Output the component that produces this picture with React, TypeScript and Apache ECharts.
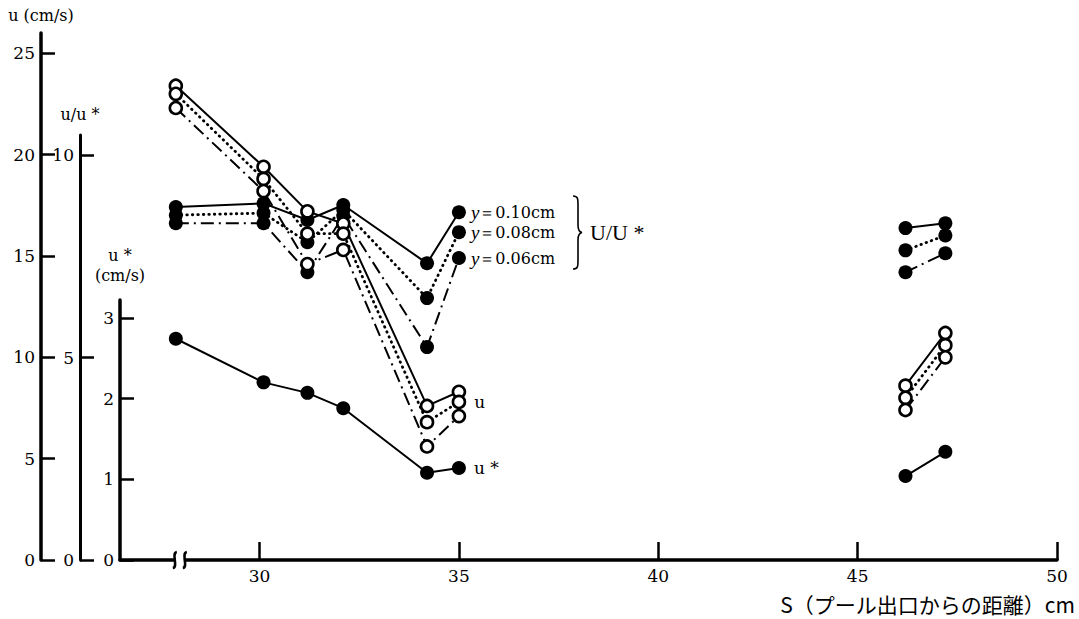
import React, { useEffect, useRef } from "react";
import * as echarts from "echarts";

// Distance S (cm) of the measuring sections
const S_CM = [27.9, 30.1, 31.2, 32.1, 34.2, 35.0, 46.2, 47.2];
const GAP_AT = 40; // lines are not drawn across this gap
// u (cm/s) — open circles
const U_010 = [23.4, 19.4, 17.2, 16.6, 7.6, 8.3, 8.6, 11.2];
const U_008 = [23.0, 18.8, 16.1, 16.1, 6.8, 7.8, 8.0, 10.6];
const U_006 = [22.3, 18.2, 14.6, 15.3, 5.6, 7.1, 7.4, 10.0];
// u/u* — filled circles
const R_010 = [8.72, 8.81, 8.4, 8.77, 7.33, 8.59, 8.2, 8.32];
const R_008 = [8.52, 8.57, 7.85, 8.65, 6.47, 8.1, 7.65, 8.02];
const R_006 = [8.32, 8.32, 7.11, 8.5, 5.26, 7.46, 7.11, 7.58];
// u* (cm/s)
const U_STAR = [2.74, 2.2, 2.07, 1.88, 1.08, 1.14, 1.04, 1.34];

const X_TICKS = [30, 35, 40, 45, 50];
const X_LABEL_STEP = 5;
const U_TICKS = [0, 5, 10, 15, 20, 25];
const R_TICKS = [0, 5, 10];
const US_TICKS = [0, 1, 2, 3];
const Y_LABELS = ["0.10cm", "0.08cm", "0.06cm"];

const SERIF = "Liberation Serif";
const SERIF2 = "DejaVu Serif";
const CJK = "Noto Sans CJK JP";

let braceRegistered = false;
function registerBrace() {
  if (braceRegistered) return;
  braceRegistered = true;
  echarts.graphic.registerShape(
    "brace",
    echarts.graphic.extendPath(
      "M0 0 C5 0 5 3 5 8 L5 29 C5 34 6 36 9 36.5 C6 37 5 39 5 44 L5 65 C5 70 5 73 0 73",
      {}
    )
  );
}

function build(values: number[], label?: any) {
  const out: any[] = [];
  S_CM.forEach((s, i) => {
    if (i > 0 && S_CM[i - 1] < GAP_AT && s > GAP_AT) out.push({ value: [GAP_AT, "-"] });
    const item: any = { value: [s, values[i]] };
    if (i === 5 && label) item.label = label;
    out.push(item);
  });
  return out;
}

const DOT = [0.5, 5];
const DASHDOT = [13, 5, 2, 5];

function series(data: any[], xi: number, dash: any, hollow: boolean, z: number) {
  return {
    type: "line",
    xAxisIndex: xi,
    yAxisIndex: xi,
    data,
    symbol: "circle",
    symbolSize: hollow ? 12 : 14,
    showAllSymbol: true,
    connectNulls: false,
    clip: false,
    silent: true,
    z,
    lineStyle: { color: "#000", width: dash === DOT ? 2.8 : 2, type: dash, cap: dash === DOT ? "round" : "butt" },
    itemStyle: hollow
      ? { color: "#fff", borderColor: "#000", borderWidth: 2.6 }
      : { color: "#000", borderWidth: 0 },
  };
}

function yLabel(text: string) {
  return {
    show: true,
    position: "right",
    distance: 5,
    formatter: "{i|y}{t|＝" + text + "}",
    rich: {
      i: { fontStyle: "italic", fontFamily: SERIF, fontSize: 19, color: "#000" },
      t: { fontFamily: SERIF2, fontSize: 16, color: "#000" },
    },
  };
}

function plainLabel(text: string) {
  return {
    show: true,
    position: "right",
    distance: 8,
    formatter: text,
    fontFamily: SERIF2,
    fontSize: 17,
    color: "#000",
  };
}

const GRID_COMMON = { left: 120, right: 22, bottom: 59 };

function yAxis(grid: number, max: number, step: number, ticks: number[], offset: number, name: string, nameGap: number, lineW: number) {
  return {
    type: "value",
    gridIndex: grid,
    min: 0,
    max,
    interval: step,
    offset,
    position: "left",
    name,
    nameLocation: "end",
    nameGap,
    nameTextStyle: { fontFamily: SERIF2, fontSize: 16, color: "#000", lineHeight: 20 },
    axisLine: { show: true, onZero: false, lineStyle: { color: "#000", width: lineW } },
    axisTick: { show: true, inside: true, length: 14, customValues: ticks, lineStyle: { color: "#000", width: 2.5 } },
    axisLabel: {
      show: true,
      showMaxLabel: false,
      margin: 6,
      fontFamily: SERIF2,
      fontSize: 17,
      color: "#000",
      formatter: (v: number) => (ticks.indexOf(v) >= 0 ? String(v) : ""),
    },
    splitLine: { show: false },
  };
}

function xAxis(grid: number, show: boolean) {
  return {
    type: "value",
    gridIndex: grid,
    min: 26.5,
    max: 50,
    interval: 0.5,
    show,
    axisLine: { show: true, onZero: false, lineStyle: { color: "#000", width: 3.5 } },
    axisTick: { show: true, inside: true, length: 18, customValues: X_TICKS, lineStyle: { color: "#000", width: 2.5 } },
    axisLabel: {
      show: true,
      margin: 7,
      fontFamily: SERIF2,
      fontSize: 17,
      color: "#000",
      hideOverlap: false,
      interval: 0,
      formatter: (v: number) => (Math.abs(v % X_LABEL_STEP) < 1e-6 ? String(v) : ""),
    },
    splitLine: { show: false },
  };
}

export default function App() {
  const ref = useRef<HTMLDivElement>(null);
  useEffect(() => {
    if (!ref.current) return;
    registerBrace();
    const chart = echarts.init(ref.current, null, { renderer: "svg" });
    chart.setOption({
      animation: false,
      backgroundColor: "#fff",
      grid: [
        { ...GRID_COMMON, top: 33 },
        { ...GRID_COMMON, top: 135 },
        { ...GRID_COMMON, top: 300 },
      ],
      xAxis: [xAxis(0, false), xAxis(1, false), xAxis(2, true)],
      yAxis: [
        yAxis(0, 26, 5, U_TICKS, 79, "u (cm/s)", 8, 3.5),
        yAxis(1, 10.5, 5, R_TICKS, 40, "u/u *", 11, 3),
        yAxis(2, 3.22, 1, US_TICKS, 0, "u *\n(cm/s)", 15, 3.5),
      ],
      series: [
        series(build(R_010, yLabel(Y_LABELS[0])), 1, "solid", false, 3),
        series(build(R_008, yLabel(Y_LABELS[1])), 1, DOT, false, 3),
        series(build(R_006, yLabel(Y_LABELS[2])), 1, DASHDOT, false, 3),
        series(build(U_STAR, plainLabel("u *")), 2, "solid", false, 3),
        series(build(U_010), 0, "solid", true, 4),
        series(build(U_008, plainLabel("u")), 0, DOT, true, 4),
        series(build(U_006), 0, DASHDOT, true, 4),
      ],
    });

    const bx = chart.convertToPixel({ xAxisIndex: 2 }, 28.0) as number;
    const by = chart.convertToPixel({ yAxisIndex: 2 }, 0) as number;
    const mark = (cx: number) => ({
      type: "bezierCurve",
      shape: { x1: cx + 2, y1: by - 8, cpx1: cx - 4, cpy1: by - 7, cpx2: cx + 4, cpy2: by + 7, x2: cx - 2, y2: by + 8 },
      style: { stroke: "#000", lineWidth: 2.5, fill: "none" },
      z: 10,
    });
    chart.setOption({
      graphic: [
        { type: "rect", shape: { x: bx - 4, y: by - 4, width: 8, height: 8 }, style: { fill: "#fff" }, z: 9 },
        mark(bx - 5),
        mark(bx + 5),
        {
          type: "brace",
          x: 573,
          y: 196,
          style: { fill: "none", stroke: "#000", lineWidth: 1.6 },
          z: 10,
        },
        {
          type: "text",
          x: 590,
          y: 232,
          style: { text: "U/U *", font: "22px " + SERIF, fill: "#000", verticalAlign: "middle" },
          z: 10,
        },
        {
          type: "text",
          right: 4,
          top: 593,
          style: { text: "S（プール出口からの距離）cm", font: "21px '" + CJK + "'", fill: "#000" },
          z: 10,
        },
      ],
    });
    return () => chart.dispose();
  }, []);
  return <div ref={ref} style={{ position: "absolute", left: 0, top: 0, width: 1079, height: 619 }} />;
}
